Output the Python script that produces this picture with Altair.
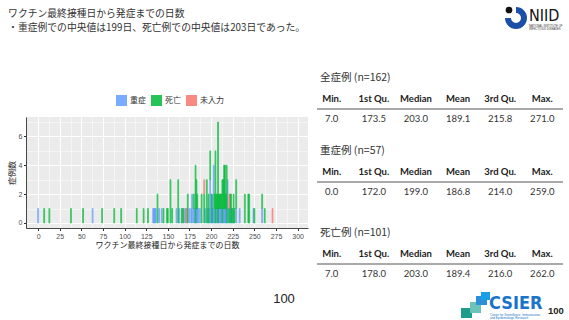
import altair as alt
import pandas as pd

# ---------------- data ----------------
categories = ["重症", "死亡", "未入力"]
cat_colors = ["#619CFF", "#00BA38", "#F8766D"]

sev_days = [0, 63, 133, 134, 135, 136, 140, 143, 160, 163, 167, 170, 172, 175, 177, 178,
            180, 181, 183, 184, 185, 187, 193, 196, 198, 199, 200, 202, 203, 204, 206, 207,
            209, 210, 211, 212, 214, 215, 216, 217, 219, 220, 222, 225, 229, 233, 249, 259]
sev_counts = [1, 1, 1, 1, 1, 1, 1, 1, 1, 1, 1, 1, 1, 1, 1, 2,
              1, 1, 1, 1, 1, 1, 1, 1, 1, 3, 2, 1, 4, 1, 1, 1,
              1, 1, 1, 1, 1, 1, 1, 1, 3, 1, 1, 1, 1, 1, 1, 1]

death_days = [7, 13, 38, 52, 74, 88, 96, 114, 122, 127, 138, 145, 149, 150, 153, 155,
              162, 166, 168, 173, 180, 182, 183, 184, 189, 192, 195, 197, 199, 201, 204, 205,
              206, 207, 208, 209, 210, 211, 212, 213, 214, 215, 216, 217, 218, 221, 222, 223,
              224, 226, 227, 229, 239, 243, 244, 250, 259, 262]
death_counts = [1, 1, 1, 1, 1, 1, 1, 1, 1, 1, 2, 1, 1, 1, 3, 1,
                3, 1, 1, 2, 1, 4, 2, 1, 2, 2, 3, 2, 2, 2, 1, 5,
                1, 1, 7, 1, 1, 1, 1, 3, 2, 3, 3, 1, 4, 1, 1, 2,
                1, 2, 1, 2, 2, 2, 2, 1, 1, 1]

unk_days = [171, 192, 221, 271]
unk_counts = [1, 1, 1, 1]

x_ticks = [i * 12.5 for i in range(25)]
y_ticks = [0, 1, 2, 3, 4, 5, 6, 7]

title_lines = ["ワクチン最終接種日から発症までの日数",
               "・重症例での中央値は199日、死亡例での中央値は203日であった。"]
x_title = "ワクチン最終接種日から発症までの日数"
y_title = "症例数"
page_no = "100"

stat_headers = ["Min.", "1st Qu.", "Median", "Mean", "3rd Qu.", "Max."]
table_titles = ["全症例 (n=162)", "重症例 (n=57)", "死亡例 (n=101)"]
all_vals = ["7.0", "173.5", "203.0", "189.1", "215.8", "271.0"]
sev_vals = ["0.0", "172.0", "199.0", "186.8", "214.0", "259.0"]
death_vals = ["7.0", "178.0", "203.0", "189.4", "216.0", "262.0"]

JP = "Noto Sans CJK JP"
LAT = "Lato"
NARROW = "Liberation Sans Narrow, DejaVu Sans Condensed, sans-serif"

# ---------------- histogram ----------------
rows = []
for k, (days, counts) in enumerate([(sev_days, sev_counts), (death_days, death_counts), (unk_days, unk_counts)]):
    for d, c in zip(days, counts):
        rows.append({"day": d, "cat": categories[k], "n": c, "ord": k})
hist_df = pd.DataFrame(rows)

axis_common = dict(
    labelFontSize=7, labelColor="#4D4D4D", labelFont="Liberation Sans", labelPadding=1.5,
    tickSize=2.5, tickColor="#333333", domainColor="#333333", domainWidth=0.9,
    gridColor="#FFFFFF", titleFont=JP, titleFontSize=8, titleFontWeight="normal",
    titleColor="#222222", titlePadding=2,
)
x_axis = alt.Axis(
    values=x_ticks,
    labelExpr="datum.value % 25 == 0 ? datum.label : ''",
    gridWidth={"condition": {"test": "datum.value % 25 == 0", "value": 1.0}, "value": 0.5},
    tickOpacity={"condition": {"test": "datum.value % 25 == 0", "value": 1}, "value": 0},
    **axis_common,
)
y_axis = alt.Axis(
    values=y_ticks,
    labelExpr="datum.value % 2 == 0 ? datum.label : ''",
    gridWidth={"condition": {"test": "datum.value % 2 == 0", "value": 1.0}, "value": 0.5},
    tickOpacity={"condition": {"test": "datum.value % 2 == 0", "value": 1}, "value": 0},
    **axis_common,
)

bars = alt.Chart(hist_df).transform_stack(
    stack="n", groupby=["day"], as_=["y0", "y1"],
    sort=[alt.SortField("ord", order="ascending")],
).transform_calculate(
    x0="datum.day - 0.5", x1="datum.day + 0.5"
).mark_bar(opacity=0.8, strokeWidth=0.8).encode(
    x=alt.X("x0:Q", scale=alt.Scale(domain=[-14, 312], nice=False, zero=False), axis=x_axis, title=x_title),
    x2="x1:Q",
    y=alt.Y("y0:Q", scale=alt.Scale(domain=[-0.35, 7.35], nice=False, zero=False), axis=y_axis, title=y_title),
    y2="y1:Q",
    color=alt.Color("cat:N", scale=alt.Scale(domain=categories, range=cat_colors),
                    legend=alt.Legend(orient="none", legendX=90, legendY=-22, direction="horizontal",
                                      title=None, symbolType="square", symbolSize=121,
                                      symbolStrokeWidth=0, symbolOpacity=0.85, labelFont=JP,
                                      labelFontSize=8, labelColor="#333333", labelOffset=3,
                                      columnPadding=5, padding=0)),
    stroke=alt.Stroke("cat:N", scale=alt.Scale(domain=categories, range=cat_colors), legend=None),
)

page_text = alt.Chart(pd.DataFrame({"t": [page_no]})).mark_text(
    fontSize=13, font="Liberation Sans", color="#222222", align="center", baseline="middle"
).encode(x=alt.value(258), y=alt.value(182), text="t:N")

hist = alt.layer(bars, page_text).properties(
    width=282, height=111,
    view=alt.ViewBackground(fill="#EBEBEB", stroke=None),
    title=alt.TitleParams(title_lines, anchor="start", font=JP, fontSize=9.8, fontWeight="normal",
                          color="#333333", lineHeight=14.5, offset=84),
)

# ---------------- tables (one view; origin aligned with the histogram's plot area) ----------------
PANEL_TOP = 116                      # page y of this view's origin (same row as the histogram)
table_tops = [77, 150, 232]          # layout: page y of each table title
HEAD_DY, VAL_DY, RULE_DY = 21, 40.5, 31

tab_vals = [all_vals, sev_vals, death_vals]
cell_rows, title_rows, rule_rows = [], [], []
for i, (ttl, vals) in enumerate(zip(table_titles, tab_vals)):
    top = table_tops[i]
    title_rows.append({"txt": ttl, "yy": top})
    rule_rows.append({"yy": top + RULE_DY})
    for h, v in zip(stat_headers, vals):
        cell_rows.append({"col": h, "txt": h, "kind": "h", "yy": top + HEAD_DY})
        cell_rows.append({"col": h, "txt": v, "kind": "v", "yy": top + VAL_DY})
cells_df = pd.DataFrame(cell_rows)

yscale = alt.Scale(domain=[PANEL_TOP, PANEL_TOP + 111], reverse=True, nice=False, zero=False)
xs = alt.X("col:N", sort=stat_headers,
           scale=alt.Scale(type="point", domain=stat_headers, padding=0.35), axis=None)
ys = alt.Y("yy:Q", scale=yscale, axis=None)

heads = alt.Chart(cells_df).transform_filter("datum.kind == 'h'").mark_text(
    font=LAT, fontSize=9.5, fontWeight="bold", color="#222222", align="center", baseline="middle"
).encode(x=xs, y=ys, text="txt:N")
vals_layer = alt.Chart(cells_df).transform_filter("datum.kind == 'v'").mark_text(
    font=LAT, fontSize=9.5, color="#333333", align="center", baseline="middle"
).encode(x=xs, y=ys, text="txt:N")
rules = alt.Chart(pd.DataFrame(rule_rows)).mark_rule(color="#555555", strokeWidth=1).encode(
    x=alt.value(0), x2=alt.value(246), y=ys)
titles = alt.Chart(pd.DataFrame(title_rows)).mark_text(
    font=JP, fontSize=10.5, color="#333333", align="left", baseline="middle"
).encode(x=alt.value(3), y=ys, text="txt:N")

one = pd.DataFrame({"a": [0]})
OX, OY = 317, PANEL_TOP              # page origin of this view, for the two logos


def txt(s, x, y, **kw):
    return alt.Chart(pd.DataFrame({"t": [s]})).mark_text(align="left", baseline="alphabetic", **kw).encode(
        x=alt.value(x - OX), y=alt.value(y - OY), text="t:N")


def sq(x, x2, y, y2, c):
    return alt.Chart(one).mark_rect(color=c).encode(
        x=alt.value(x - OX), x2=alt.value(x2 - OX), y=alt.value(y - OY), y2=alt.value(y2 - OY))


logos = [
    # NIID
    alt.Chart(one).mark_arc(innerRadius=5, outerRadius=11, theta=0, theta2=4.71, color="#1C4FA8")
    .encode(x=alt.value(516 - OX), y=alt.value(17 - OY)),
    alt.Chart(one).mark_circle(size=45, color="#111111", opacity=1)
    .encode(x=alt.value(509 - OX), y=alt.value(9 - OY)),
    txt("NIID", 529, 20, fontSize=16, font=NARROW, color="#111111"),
    txt("NATIONAL INSTITUTE OF", 529, 26, fontSize=2.8, font="Liberation Sans", color="#333333"),
    txt("INFECTIOUS DISEASES", 529, 29, fontSize=2.8, font="Liberation Sans", color="#333333"),
    # CSIER
    sq(461, 472, 307, 317, "#1F9C8C"),
    sq(470, 481, 301, 312, "#6CC3B9"),
    sq(476, 487, 295, 304, "#2F8FD6"),
    sq(481, 490, 291, 299, "#1AA0E6"),
    txt("CSIER", 489, 308, fontSize=18, fontWeight="bold", font=NARROW, color="#1A75C9"),
    txt("Center for Surveillance, Immunization,", 490, 314.5, fontSize=3, font="Liberation Sans", color="#1A75C9"),
    txt("and Epidemiologic Research", 490, 318, fontSize=3, font="Liberation Sans", color="#1A75C9"),
    txt(page_no, 548, 313, fontSize=9.5, fontWeight="bold", font="Liberation Sans", color="#222222"),
]

tables = alt.layer(rules, heads, vals_layer, titles, *logos).properties(width=240, height=111)

chart = alt.hconcat(hist, tables, spacing=8).properties(
    padding={"left": 8, "top": 6, "right": 0, "bottom": 0}
).configure(background="white").configure_view(stroke=None)

chart.save("out.html", embed_options={"renderer": "svg", "actions": False})
